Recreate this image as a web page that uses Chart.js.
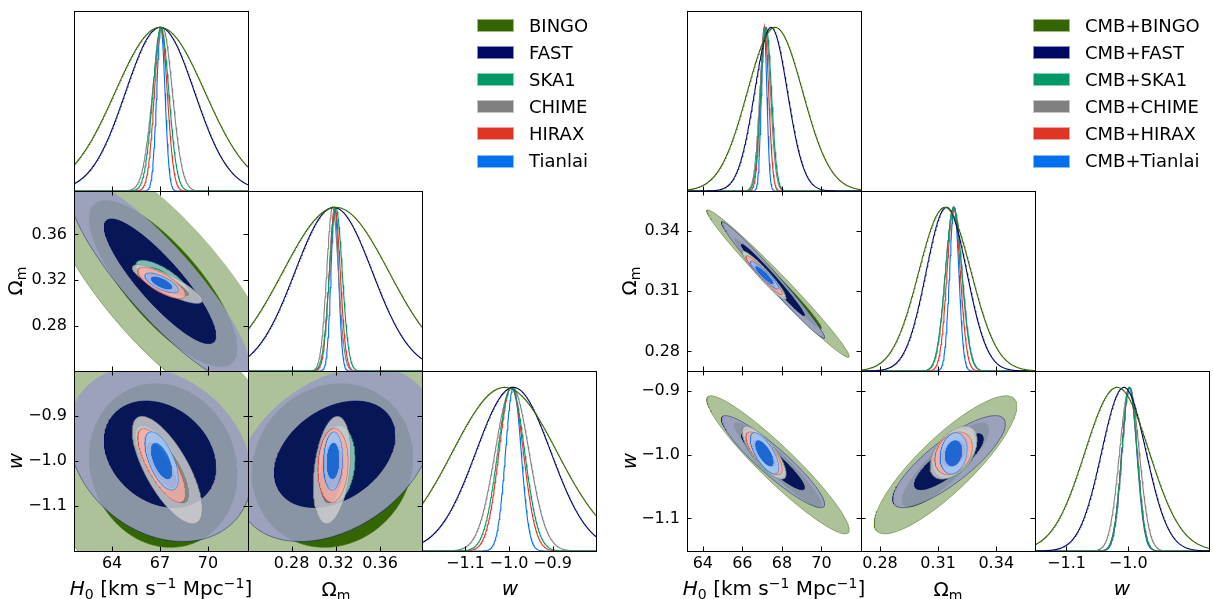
<!DOCTYPE html>
<html>
<head>
<meta charset="utf-8">
<script src="https://cdn.jsdelivr.net/npm/chart.js@4.4.1/dist/chart.umd.min.js"></script>
<style>
  body { margin: 0; background: #fff; width: 1213px; height: 599px; overflow: hidden; position: relative;
         font-family: "DejaVu Sans", sans-serif; color: #000; }
  canvas { position: absolute; left: 0; top: 0; }
  .ttl { position: absolute; font-size: 20px; white-space: nowrap; transform: translate(-50%, -50%); }
  .ttl.rot { transform: translate(-50%, -50%) rotate(-90deg); }
  sub { font-size: 70%; vertical-align: -0.3em; line-height: 0; }
  sup { font-size: 70%; vertical-align: 0.5em; line-height: 0; }
  .leg { position: absolute; font-size: 18px; white-space: nowrap; }
  .sw { position: absolute; width: 37px; height: 13px; box-sizing: border-box; }
</style>
</head>
<body>
<script>
// series shared by both triangles
const names = ['BINGO', 'FAST', 'SKA1', 'CHIME', 'HIRAX', 'Tianlai'];
const cmbNames = ['CMB+BINGO', 'CMB+FAST', 'CMB+SKA1', 'CMB+CHIME', 'CMB+HIRAX', 'CMB+Tianlai'];
const colors = ['#336600', '#000866', '#009966', '#808080', '#E03424', '#006FED'];

// ---- HI surveys alone (left triangle) ----
// 1D marginals: peak and width
const hiH0Mean = [67.0, 67.0, 67.05, 67.15, 67.05, 67.05];
const hiH0Sig  = [2.8, 2.15, 0.5, 0.62, 0.4, 0.26];
const hiOmMean = [0.320, 0.318, 0.320, 0.317, 0.319, 0.319];
const hiOmSig  = [0.048, 0.035, 0.0058, 0.0053, 0.005, 0.0034];
const hiWMean  = [-1.01, -0.99, -0.995, -0.993, -0.995, -0.99];
const hiWSig   = [0.12, 0.086, 0.031, 0.039, 0.028, 0.018];
// 2D contours: centre, width, correlation
const hiH0Ctr  = [67.2, 67.0, 67.15, 67.45, 67.1, 67.1];
const hiOmCtr  = [0.317, 0.319, 0.321, 0.3165, 0.3175, 0.3175];
const hiWCtr   = [-1.01, -0.985, -1.007, -1.02, -1.01, -1.0];
const hiH0Sig2 = [3.05, 2.3, 0.67, 0.88, 0.6, 0.42];
const hiOmSig2 = [0.048, 0.036, 0.0066, 0.0068, 0.0055, 0.0035];
const hiWSig2  = [0.12, 0.078, 0.034, 0.048, 0.033, 0.026];
const hiRhoH0Om = [-0.78, -0.87, -0.75, -0.85, -0.75, -0.7];
const hiRhoH0W  = [-0.1, -0.25, -0.75, -0.72, -0.75, -0.6];
const hiRhoOmW  = [0.1, 0.35, 0.15, 0.3, 0.1, 0.1];

// ---- CMB + HI surveys (right triangle) ----
const cmbH0Mean = [67.65, 67.45, 67.2, 67.15, 67.12, 67.1];
const cmbH0Sig  = [1.4, 0.83, 0.27, 0.27, 0.21, 0.14];
const cmbOmMean = [0.3135, 0.3143, 0.318, 0.318, 0.318, 0.3183];
const cmbOmSig  = [0.0135, 0.0105, 0.0043, 0.0042, 0.0034, 0.0024];
const cmbWMean  = [-1.018, -1.007, -0.998, -0.998, -0.998, -0.998];
const cmbWSig   = [0.052, 0.036, 0.0125, 0.016, 0.0125, 0.012];
const cmbH0Ctr  = [67.8, 67.55, 67.1, 67.1, 67.1, 67.12];
const cmbOmCtr  = [0.3138, 0.3156, 0.3185, 0.318, 0.318, 0.318];
const cmbWCtr   = [-1.016, -1.011, -0.998, -0.997, -0.998, -0.998];
const cmbH0Sig2 = [1.45, 1.05, 0.43, 0.45, 0.37, 0.29];
const cmbOmSig2 = [0.0148, 0.0117, 0.0045, 0.0049, 0.0039, 0.0028];
const cmbWSig2  = [0.0435, 0.029, 0.0155, 0.0167, 0.0135, 0.013];
const cmbRhoH0Om = [-0.985, -0.985, -0.95, -0.95, -0.95, -0.93];
const cmbRhoH0W  = [-0.94, -0.92, -0.75, -0.8, -0.75, -0.7];
const cmbRhoOmW  = [0.85, 0.82, 0.4, 0.5, 0.3, 0.2];

// axis ranges and ticks
const hiH0Range = [61.62, 72.5], hiOmRange = [0.2405, 0.398], hiWRange = [-1.2, -0.8];
const hiH0Ticks = [64, 67, 70], hiOmTicks = [0.28, 0.32, 0.36], hiWTicks = [-1.1, -1.0, -0.9];
const hiH0Labels = ['64', '67', '70'], hiOmLabels = ['0.28', '0.32', '0.36'], hiWLabels = ['\u22121.1', '\u22121.0', '\u22120.9'];
const cmbH0Range = [63.2, 72.0], cmbOmRange = [0.2702, 0.360], cmbWRange = [-1.151, -0.869];
const cmbH0Ticks = [64, 66, 68, 70], cmbOmTicks = [0.28, 0.31, 0.34];
const cmbWTicksY = [-1.1, -1.0, -0.9], cmbWTicksX = [-1.1, -1.0];
const cmbH0Labels = ['64', '66', '68', '70'], cmbOmLabels = ['0.28', '0.31', '0.34'];
const cmbWLabelsY = ['\u22121.1', '\u22121.0', '\u22120.9'], cmbWLabelsX = ['\u22121.1', '\u22121.0'];

const W = 1213, H = 599, PW = 174, PH = 180;
const R1 = 1.515, R2 = 2.486; // 68% / 95% radii of a 2D gaussian

function rgb(hex) { const n = parseInt(hex.slice(1), 16); return [n >> 16 & 255, n >> 8 & 255, n & 255]; }
function pale(hex) { return rgb(hex).map(c => Math.round(c * 0.4 + 153)); }
function rgba(c, a) { return `rgba(${c[0]},${c[1]},${c[2]},${a})`; }

function ellipse(mx, my, sx, sy, rho, r, rev) {
  const pts = [], q = Math.sqrt(1 - rho * rho), n = 180;
  for (let i = 0; i <= n; i++) {
    const t = (rev ? n - i : i) / n * 2 * Math.PI;
    pts.push({ x: mx + r * sx * Math.cos(t), y: my + r * sy * (rho * Math.cos(t) + q * Math.sin(t)) });
  }
  return pts;
}
function gauss(m, s, lo, hi) {
  const pts = [];
  for (let i = 0; i <= 300; i++) {
    const x = lo + (hi - lo) * i / 300;
    pts.push({ x, y: Math.exp(-0.5 * ((x - m) / s) ** 2) });
  }
  return pts;
}

// frame, inward ticks and tick labels
const framePlugin = {
  id: 'frame',
  afterDraw(chart, args, o) {
    const { ctx, chartArea: a } = chart;
    const xs = chart.scales.x, ys = chart.scales.y, L = 4.5;
    ctx.save();
    ctx.strokeStyle = '#000'; ctx.lineWidth = 1;
    ctx.strokeRect(a.left + 0.5, a.top + 0.5, a.right - a.left, a.bottom - a.top);
    ctx.beginPath();
    o.xt.forEach(v => {
      const p = Math.round(xs.getPixelForValue(v)) + 0.5;
      ctx.moveTo(p, a.bottom); ctx.lineTo(p, a.bottom - L);
      if (o.yt) { ctx.moveTo(p, a.top); ctx.lineTo(p, a.top + L); }
    });
    if (o.yt) o.yt.forEach(v => {
      const p = Math.round(ys.getPixelForValue(v)) + 0.5;
      ctx.moveTo(a.left, p); ctx.lineTo(a.left + L, p);
      ctx.moveTo(a.right, p); ctx.lineTo(a.right - L, p);
    });
    ctx.stroke();
    ctx.fillStyle = '#000';
    ctx.font = '16px "DejaVu Sans"';
    if (o.xl) {
      ctx.textAlign = 'center'; ctx.textBaseline = 'top';
      o.xt.forEach((v, k) => ctx.fillText(o.xl[k], xs.getPixelForValue(v), a.bottom + 5));
    }
    if (o.yl) {
      ctx.textAlign = 'right'; ctx.textBaseline = 'middle';
      o.yt.forEach((v, k) => ctx.fillText(o.yl[k], a.left - 7, ys.getPixelForValue(v)));
    }
    ctx.restore();
  }
};

function panel(x0, y0, px, py, datasets, frame) {
  const c = document.createElement('canvas');
  c.width = W; c.height = H;
  document.body.appendChild(c);
  new Chart(c, {
    type: 'line',
    data: { datasets },
    options: {
      responsive: false, animation: false, devicePixelRatio: 1,
      layout: { padding: { left: x0, top: y0, right: W - x0 - PW, bottom: H - y0 - PH } },
      parsing: false, normalized: true,
      elements: { point: { radius: 0 }, line: { tension: 0 } },
      plugins: { legend: { display: false }, tooltip: { enabled: false }, frame },
      scales: {
        x: { type: 'linear', display: false, min: px.range[0], max: px.range[1] },
        y: { type: 'linear', display: false, min: py ? py.range[0] : 0, max: py ? py.range[1] : 1.1 }
      }
    },
    plugins: [framePlugin]
  });
}

function triangle(xs, ys, par, rho) {
  for (let i = 0; i < 3; i++) {
    for (let j = 0; j <= i; j++) {
      const px = par[j], bottom = i === 2;
      if (i === j) {
        const ds = colors.map((col, k) => ({
          data: gauss(px.mean[k], px.sig[k], px.range[0], px.range[1]),
          borderColor: col, borderWidth: 1.1, fill: false, clip: 0
        }));
        panel(xs[j], ys[i], px, null, ds,
          { xt: px.xt, xl: bottom ? px.xl : null });
      } else {
        const py = par[i], r = rho[j][i], ds = [];
        colors.forEach((col, k) => {
          const a = k === 0 ? 1 : 0.85, base = rgb(col);
          const e = (rad, rev) => ellipse(px.ctr[k], py.ctr[k], px.sig2[k], py.sig2[k], r[k], rad, rev);
          // 95% ring (outer minus inner), 68% core, 95% edge
          ds.push({ data: e(R2, false).concat(e(R1, true)), backgroundColor: rgba(pale(col), a),
                    borderWidth: 0, fill: 'shape', clip: 0, order: 60 - 3 * k });
          ds.push({ data: e(R1, false), backgroundColor: rgba(base, a), borderColor: rgba(base, 0.8),
                    borderWidth: 0.8, fill: 'shape', clip: 0, order: 59 - 3 * k });
          ds.push({ data: e(R2, false), borderColor: rgba(base, 0.55),
                    borderWidth: 0.8, fill: false, clip: 0, order: 58 - 3 * k });
        });
        panel(xs[j], ys[i], px, py, ds, {
          xt: px.xt, xl: bottom ? px.xl : null,
          yt: py.yt, yl: j === 0 ? py.yl : null
        });
      }
    }
  }
}

Chart.defaults.font.family = '"DejaVu Sans", sans-serif';

const rowsY = [11, 191, 371];
triangle([74, 248, 422], rowsY, [
  { range: hiH0Range, xt: hiH0Ticks, xl: hiH0Labels, yt: hiH0Ticks, yl: hiH0Labels,
    mean: hiH0Mean, sig: hiH0Sig, ctr: hiH0Ctr, sig2: hiH0Sig2 },
  { range: hiOmRange, xt: hiOmTicks, xl: hiOmLabels, yt: hiOmTicks, yl: hiOmLabels,
    mean: hiOmMean, sig: hiOmSig, ctr: hiOmCtr, sig2: hiOmSig2 },
  { range: hiWRange, xt: hiWTicks, xl: hiWLabels, yt: hiWTicks, yl: hiWLabels,
    mean: hiWMean, sig: hiWSig, ctr: hiWCtr, sig2: hiWSig2 }
], [[null, hiRhoH0Om, hiRhoH0W], [null, null, hiRhoOmW]]);

triangle([687, 861, 1035], rowsY, [
  { range: cmbH0Range, xt: cmbH0Ticks, xl: cmbH0Labels, yt: cmbH0Ticks, yl: cmbH0Labels,
    mean: cmbH0Mean, sig: cmbH0Sig, ctr: cmbH0Ctr, sig2: cmbH0Sig2 },
  { range: cmbOmRange, xt: cmbOmTicks, xl: cmbOmLabels, yt: cmbOmTicks, yl: cmbOmLabels,
    mean: cmbOmMean, sig: cmbOmSig, ctr: cmbOmCtr, sig2: cmbOmSig2 },
  { range: cmbWRange, xt: cmbWTicksX, xl: cmbWLabelsX, yt: cmbWTicksY, yl: cmbWLabelsY,
    mean: cmbWMean, sig: cmbWSig, ctr: cmbWCtr, sig2: cmbWSig2 }
], [[null, cmbRhoH0Om, cmbRhoH0W], [null, null, cmbRhoOmW]]);

// axis titles
const H0T = '<i>H</i><sub>0</sub> [km s<sup>\u22121</sup> Mpc<sup>\u22121</sup>]';
const OmT = '\u03A9<sub>m</sub>', WT = '<i>w</i>';
[[161, 588, H0T, ''], [336, 589, OmT, ''], [510, 588, WT, ''],
 [774, 588, H0T, ''], [948, 589, OmT, ''], [1122, 588, WT, ''],
 [15, 281, OmT, 'rot'], [15, 461, WT, 'rot'],
 [629, 281, OmT, 'rot'], [629, 461, WT, 'rot']].forEach(([x, y, t, cls]) => {
  const d = document.createElement('div');
  d.className = 'ttl ' + cls; d.innerHTML = t;
  d.style.left = x + 'px'; d.style.top = y + 'px';
  document.body.appendChild(d);
});

// legends
function legend(labels, swX, txtX) {
  labels.forEach((t, k) => {
    const cy = 25.5 + k * 27.1;
    const s = document.createElement('div');
    s.className = 'sw';
    s.style.left = swX + 'px'; s.style.top = (cy - 6.5) + 'px';
    s.style.background = colors[k];
    s.style.border = '1px solid ' + rgba(pale(colors[k]), 0.9);
    document.body.appendChild(s);
    const d = document.createElement('div');
    d.className = 'leg'; d.textContent = t;
    d.style.left = txtX + 'px'; d.style.top = (cy - 11) + 'px';
    document.body.appendChild(d);
  });
}
legend(names, 477, 529);
legend(cmbNames, 1033, 1085);
</script>
</body>
</html>
